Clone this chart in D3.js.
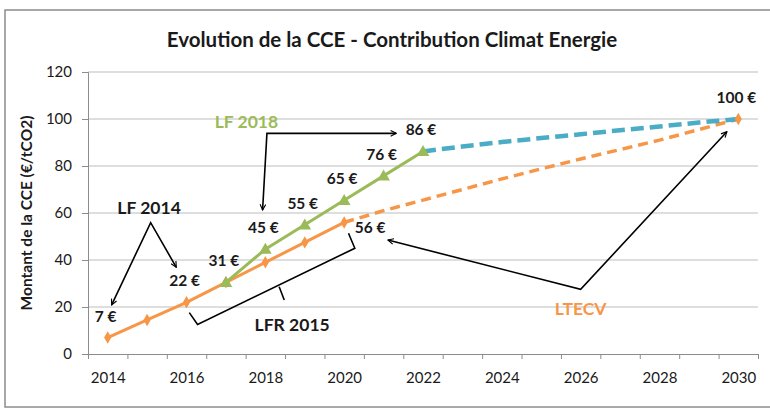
<!DOCTYPE html>
<html>
<head>
<meta charset="utf-8">
<script src="https://cdn.jsdelivr.net/npm/d3@7"></script>
<style>
body { margin: 0; background: #fff; }
text { font-family: Lato, "Open Sans", sans-serif; fill: #1a1a1a; }
</style>
</head>
<body>
<svg id="chart" width="770" height="411"></svg>
<script>
// CCE trajectory (€/tCO2)
var lf2014Years = [2014, 2015, 2016, 2017, 2018, 2019, 2020];
var lf2014Values = [7, 14.5, 22, 30.5, 39, 47.5, 56];
// LTECV dashed part up to 2030
var ltecvYears = [2020, 2021, 2022, 2023, 2024, 2025, 2026, 2027, 2028, 2029, 2030];
var ltecvValues = [56, 61, 65.5, 70, 74.5, 78.8, 83, 87, 91, 95.5, 100];
// LF 2018
var lf2018Years = [2017, 2018, 2019, 2020, 2021, 2022];
var lf2018Values = [30.5, 44.6, 55, 65.4, 75.8, 86.2];
// extension of LF 2018 to 2030
var extYears = [2022, 2023, 2024, 2025, 2026, 2027, 2028, 2029, 2030];
var extValues = [86.2, 88.3, 90.2, 91.9, 93.5, 95.2, 96.8, 98.5, 100];

// value labels
var labelYears = [2014, 2016, 2017, 2018, 2019, 2020, 2021, 2022, 2020, 2030];
var labelValues = [7, 22, 30.5, 44.6, 55, 65.4, 75.8, 86.2, 56, 100];
var labelTexts = ["7 €", "22 €", "31 €", "45 €", "55 €", "65 €", "76 €", "86 €", "56 €", "100 €"];

var yTicks = [0, 20, 40, 60, 80, 100, 120];
var xTickYears = [2014, 2016, 2018, 2020, 2022, 2024, 2026, 2028, 2030];

var orange = "#f79646", green = "#9bbb59", blue = "#4bacc6";

var svg = d3.select("#chart");

var x = d3.scaleLinear().domain([2013.5, 2030.5]).range([88, 758]);
var y = d3.scaleLinear().domain([0, 120]).range([354, 72]);

// frame
svg.append("rect")
    .attr("x", 5).attr("y", 10)
    .attr("width", 780).attr("height", 397)
    .attr("fill", "none")
    .attr("stroke", "#8c8c8c")
    .attr("stroke-width", 1.5);

svg.append("text")
    .attr("x", 392).attr("y", 47)
    .attr("text-anchor", "middle")
    .attr("font-size", 20.5)
    .attr("font-weight", "bold")
    .text("Evolution de la CCE - Contribution Climat Energie");

// gridlines
svg.append("g").selectAll("line")
    .data(yTicks.slice(1))
    .enter().append("line")
    .attr("x1", x.range()[0]).attr("x2", x.range()[1])
    .attr("y1", function(d) { return y(d); })
    .attr("y2", function(d) { return y(d); })
    .attr("stroke", "#bdbdbd")
    .attr("stroke-width", 1);

// y axis
var yAxis = svg.append("g")
    .attr("transform", "translate(" + x.range()[0] + ",0)")
    .call(d3.axisLeft(y).tickValues(yTicks).tickSize(6).tickPadding(10));
yAxis.selectAll("text").attr("font-size", 15).style("font-family", "Lato");
yAxis.selectAll("line, path").attr("stroke", "#8c8c8c");

// x axis: tick marks between categories
var xEdges = d3.range(2013.5, 2031, 1);
var xAxis = svg.append("g")
    .attr("transform", "translate(0," + y(0) + ")")
    .call(d3.axisBottom(x).tickValues(xEdges).tickSize(5).tickSizeOuter(0).tickFormat(""));
xAxis.selectAll("line, path").attr("stroke", "#8c8c8c");

var xLabels = svg.append("g")
    .attr("transform", "translate(0," + y(0) + ")")
    .call(d3.axisBottom(x).tickValues(xTickYears).tickSize(0).tickPadding(18).tickFormat(d3.format("d")));
xLabels.select(".domain").remove();
xLabels.selectAll("text").attr("font-size", 15).style("font-family", "Lato");

svg.append("text")
    .attr("transform", "translate(32," + ((y(0) + y(120)) / 2) + ")rotate(-90)")
    .attr("text-anchor", "middle")
    .attr("font-size", 15.5)
    .attr("font-weight", "bold")
    .text("Montant de la CCE (€/tCO2)");

function pts(xs, vs) {
    return xs.map(function(d, i) { return [d, vs[i]]; });
}
var line = d3.line()
    .x(function(d) { return x(d[0]); })
    .y(function(d) { return y(d[1]); });

// dashed projections
svg.append("path")
    .attr("d", line(pts(ltecvYears, ltecvValues)))
    .attr("fill", "none").attr("stroke", orange)
    .attr("stroke-width", 3.5).attr("stroke-dasharray", "10,6");
svg.append("path")
    .attr("d", line(pts(extYears, extValues)))
    .attr("fill", "none").attr("stroke", blue)
    .attr("stroke-width", 4.5).attr("stroke-dasharray", "13,6");

// solid series
svg.append("path")
    .attr("d", line(pts(lf2014Years, lf2014Values)))
    .attr("fill", "none").attr("stroke", orange).attr("stroke-width", 3);
svg.append("g").selectAll("path")
    .data(pts(lf2014Years, lf2014Values).concat([[2030, 100]]))
    .enter().append("path")
    .attr("d", d3.symbol().type(d3.symbolDiamond).size(45))
    .attr("transform", function(d) { return "translate(" + x(d[0]) + "," + y(d[1]) + ")"; })
    .attr("fill", orange);

svg.append("path")
    .attr("d", line(pts(lf2018Years, lf2018Values)))
    .attr("fill", "none").attr("stroke", green).attr("stroke-width", 3);
svg.append("g").selectAll("path")
    .data(pts(lf2018Years, lf2018Values))
    .enter().append("path")
    .attr("d", d3.symbol().type(d3.symbolTriangle).size(70))
    .attr("transform", function(d) { return "translate(" + x(d[0]) + "," + (y(d[1]) + 1) + ")"; })
    .attr("fill", green);

// value labels (56 € sits to the right of its point)
svg.append("g").selectAll("text")
    .data(labelTexts)
    .enter().append("text")
    .attr("x", function(d, i) { return x(labelYears[i]) + (d == "56 €" ? 26 : -2); })
    .attr("y", function(d, i) { return y(labelValues[i]) + (d == "56 €" ? 11 : -16); })
    .attr("text-anchor", "middle")
    .attr("font-size", 15.5)
    .attr("font-weight", "bold")
    .text(function(d) { return d; });

// annotations
var defs = svg.append("defs");
defs.append("marker")
    .attr("id", "arrow")
    .attr("viewBox", "0 0 10 10")
    .attr("refX", 9).attr("refY", 5)
    .attr("markerWidth", 7).attr("markerHeight", 7)
    .attr("markerUnits", "userSpaceOnUse")
    .attr("orient", "auto-start-reverse")
    .append("path")
    .attr("d", "M1,1 L9,5 L1,9")
    .attr("fill", "none").attr("stroke", "#000").attr("stroke-width", 1.6);

function annot(p, startArrow, endArrow) {
    var el = svg.append("path")
        .attr("d", line(p))
        .attr("fill", "none").attr("stroke", "#000").attr("stroke-width", 1.6);
    if (startArrow) el.attr("marker-start", "url(#arrow)");
    if (endArrow) el.attr("marker-end", "url(#arrow)");
}
function note(yr, v, txt, col) {
    svg.append("text")
        .attr("x", x(yr)).attr("y", y(v))
        .attr("dy", "0.35em")
        .attr("text-anchor", "middle")
        .attr("font-size", 17.5)
        .attr("font-weight", "bold")
        .style("fill", col)
        .text(txt);
}

// LF 2014
annot([[2014.10, 20.9], [2015.09, 55.9], [2015.74, 36.9]], true, true);
note(2015.05, 62.3, "LF 2014", "#1a1a1a");
// LFR 2015 bracket
annot([[2016.07, 17.6], [2016.28, 12.6], [2020.27, 45.0], [2020.11, 51.4]], false, false);
annot([[2018.35, 28.6], [2018.48, 23.0]], false, false);
note(2018.68, 12.3, "LFR 2015", "#1a1a1a");
// LF 2018
annot([[2017.93, 61.3], [2018.04, 93.9], [2021.32, 93.9]], true, true);
note(2017.52, 98.9, "LF 2018", green);
// LTECV
annot([[2021.11, 48.5], [2026.0, 27.5], [2029.71, 94.6]], true, true);
note(2026.0, 19.4, "LTECV", orange);
</script>
</body>
</html>
